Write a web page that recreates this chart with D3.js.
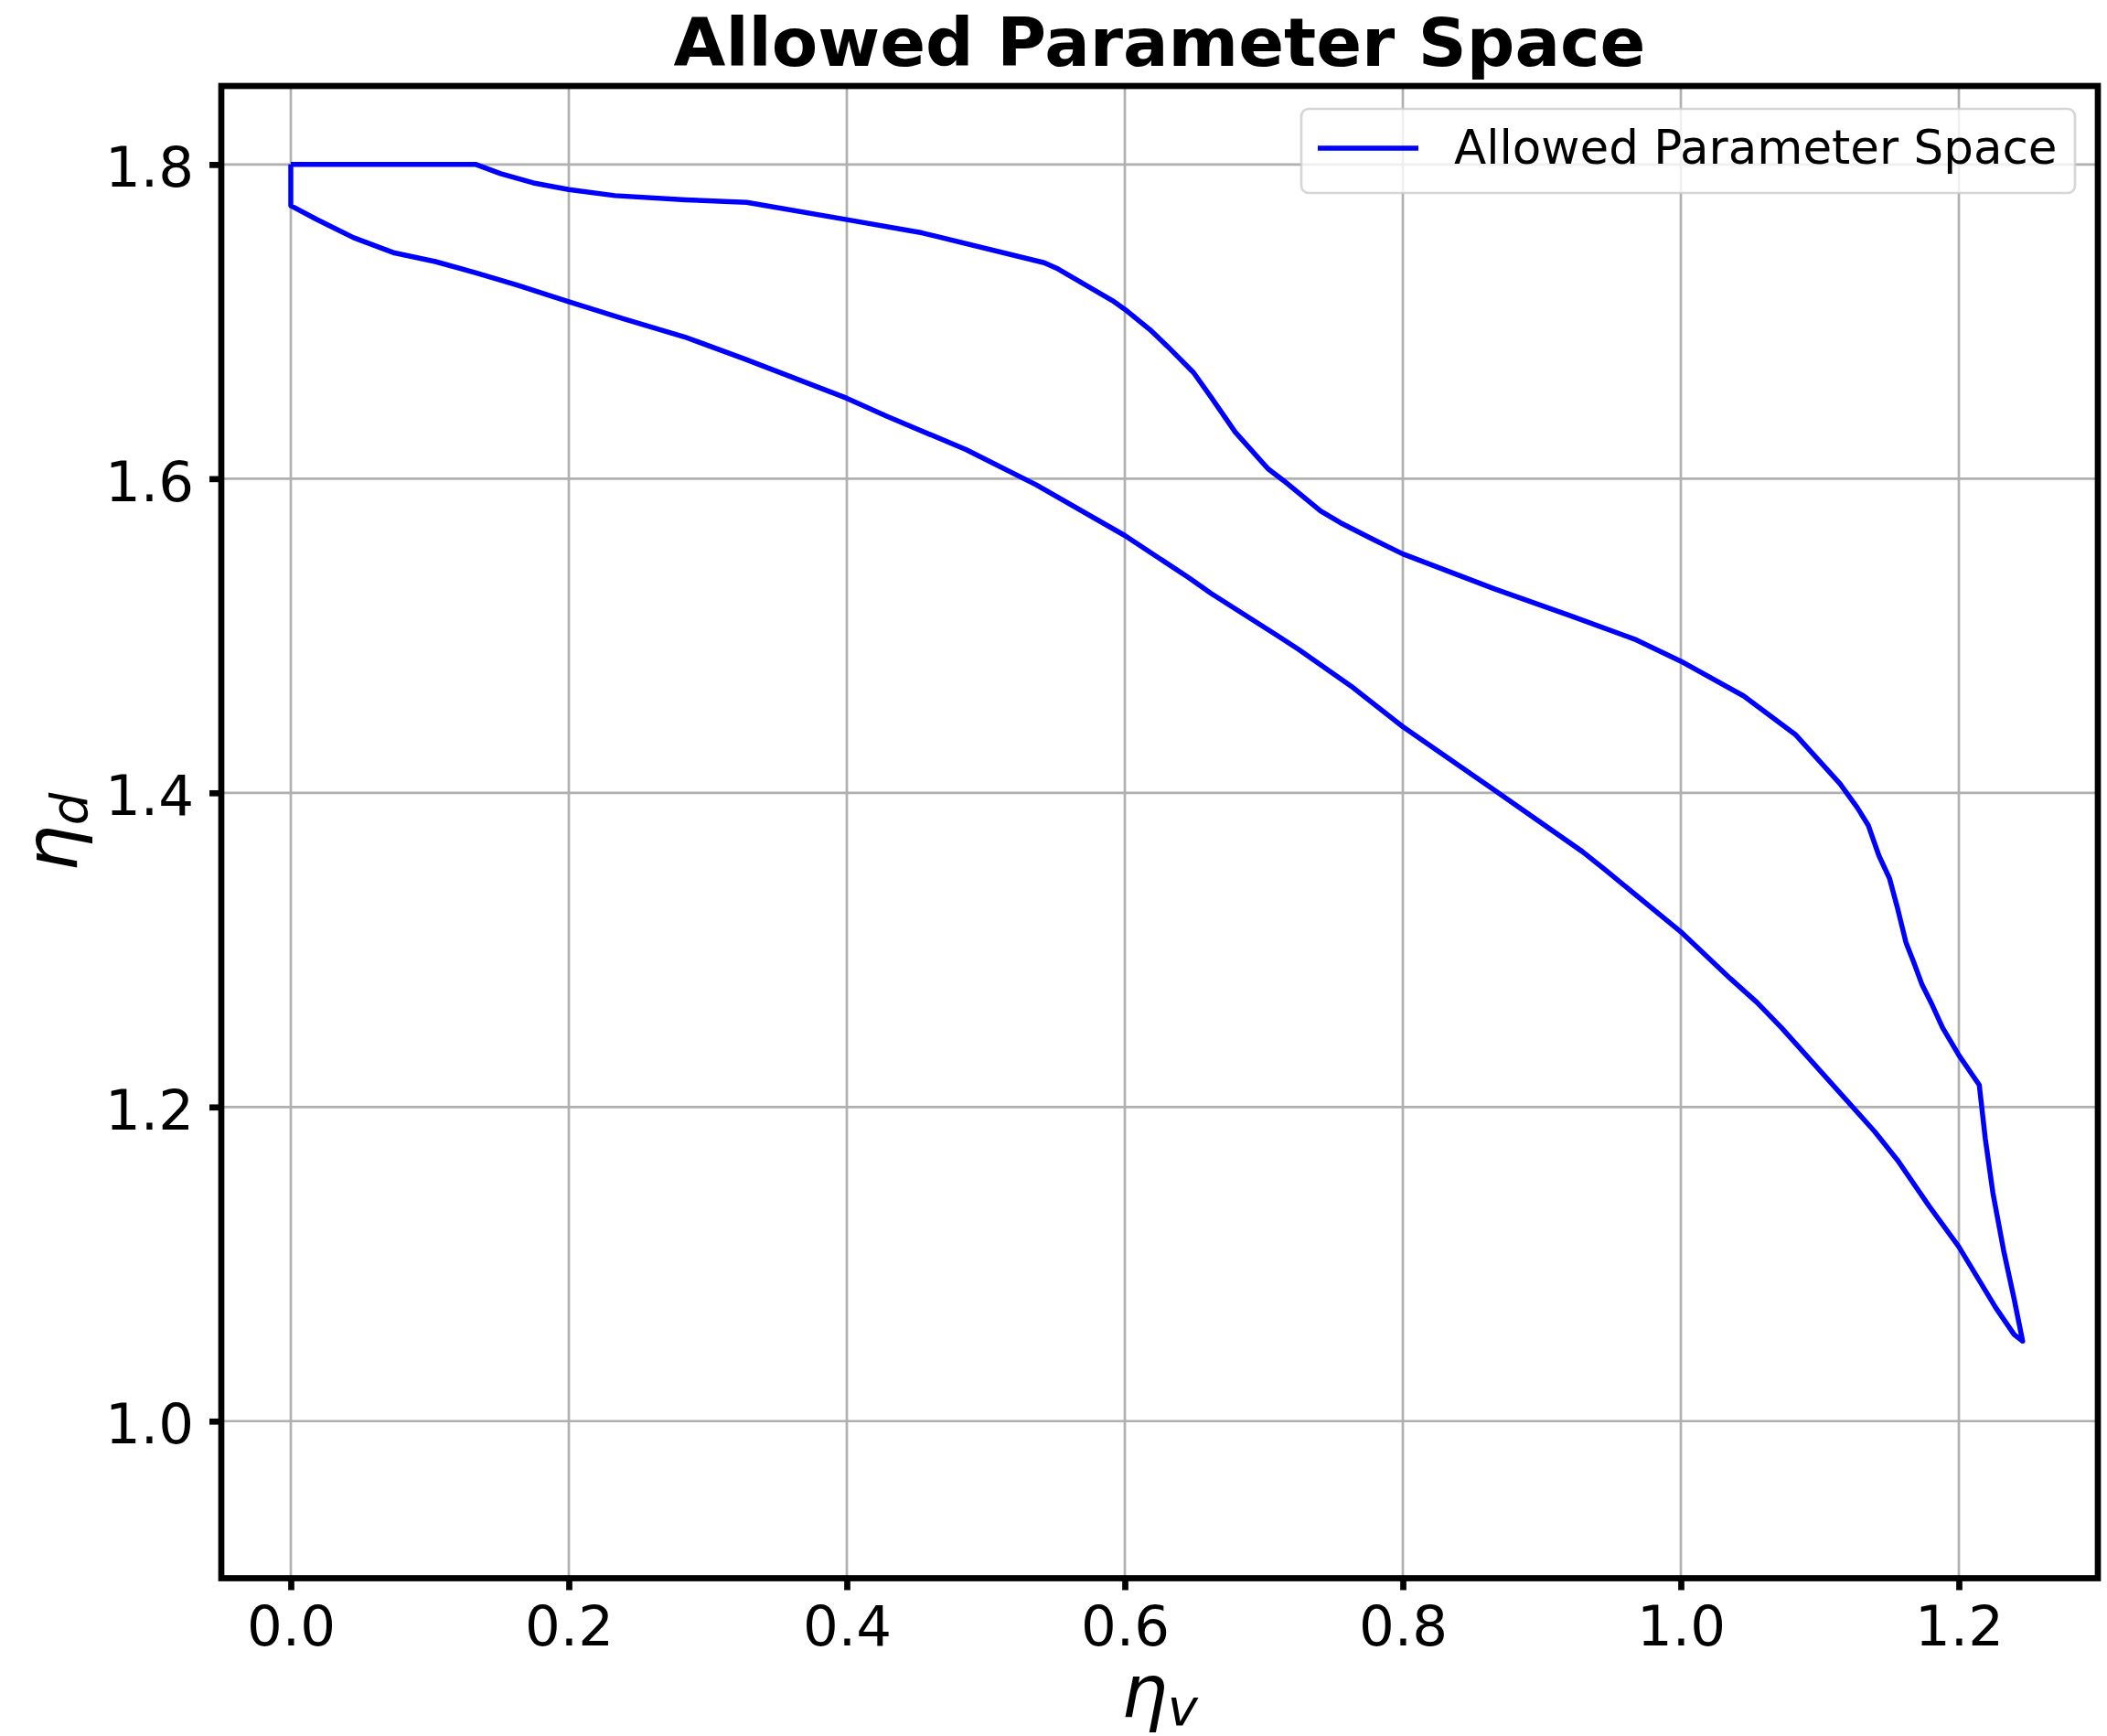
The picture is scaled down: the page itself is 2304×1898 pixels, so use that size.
<!DOCTYPE html>
<html>
<head>
<meta charset="utf-8">
<script src="https://cdn.jsdelivr.net/npm/d3@7"></script>
<style>
  html, body { margin: 0; padding: 0; background: #ffffff; }
  svg { display: block; font-family: "DejaVu Sans", sans-serif; }
</style>
</head>
<body>
<svg id="chart" width="2304" height="1898"></svg>
<script>
// Boundary of the allowed region in the (eta_v, eta_d) plane,
// traced along the upper edge out to the tip and back along the lower edge.
const etaV = [
  0.0, 0.1333, 0.151, 0.1744, 0.2, 0.2332, 0.284, 0.328, 0.4, 0.454,
  0.542, 0.552, 0.591, 0.6, 0.618, 0.6305, 0.6494, 0.662, 0.6794, 0.703,
  0.714, 0.7408, 0.755, 0.778, 0.8, 0.866, 0.9195, 0.9667, 1.0, 1.0453,
  1.0823, 1.1145, 1.127, 1.1348, 1.1425, 1.1501, 1.156, 1.1619, 1.1676, 1.1736,
  1.1807, 1.1883, 1.2, 1.2147, 1.219, 1.2245, 1.2322, 1.2398, 1.2459,
  1.2398, 1.2267, 1.2, 1.1786, 1.156, 1.1395, 1.0724, 1.0547, 1.0358, 1.0,
  0.9449, 0.929, 0.866, 0.8, 0.7628, 0.725, 0.7088, 0.662, 0.6459, 0.6,
  0.536, 0.4857, 0.429, 0.4, 0.3272, 0.2831, 0.239, 0.2, 0.1627, 0.1333,
  0.104, 0.0746, 0.0452, 0.0188, 0.0, 0.0
];
const etaD = [
  1.8, 1.8, 1.7942, 1.7883, 1.7841, 1.7802, 1.7775, 1.7759, 1.7649, 1.7565,
  1.7375, 1.7335, 1.7134, 1.7078, 1.6949, 1.6844, 1.6676, 1.652, 1.6297, 1.6063,
  1.5989, 1.5795, 1.572, 1.5616, 1.5521, 1.5298, 1.5131, 1.4978, 1.4838, 1.4616,
  1.4372, 1.4058, 1.3905, 1.3794, 1.36, 1.3456, 1.3262, 1.3049, 1.292, 1.2777,
  1.2652, 1.2505, 1.233, 1.214, 1.18, 1.1453, 1.1087, 1.0777, 1.0509,
  1.0551, 1.072, 1.111, 1.1369, 1.166, 1.1843, 1.2505, 1.2666, 1.2816, 1.3115,
  1.3515, 1.3627, 1.4017, 1.4421, 1.4679, 1.4913, 1.5006, 1.527, 1.537, 1.5638,
  1.5962, 1.6185, 1.6397, 1.6512, 1.676, 1.6903, 1.7019, 1.7126, 1.7233, 1.731,
  1.7382, 1.7437, 1.7534, 1.765, 1.7738, 1.8
];

const xTicks = [0.0, 0.2, 0.4, 0.6, 0.8, 1.0, 1.2];
const yTicks = [1.0, 1.2, 1.4, 1.6, 1.8];
const xDomain = [-0.05, 1.3];
const yDomain = [0.9, 1.85];

const titleText = "Allowed Parameter Space";
const seriesName = "Allowed Parameter Space";

const svg = d3.select("#chart");
const W = 2304, H = 1898;
const box = { left: 242, right: 2294, top: 94, bottom: 1725.5 };

const x = d3.scaleLinear().domain(xDomain).range([box.left, box.right]);
const y = d3.scaleLinear().domain(yDomain).range([box.bottom, box.top]);

svg.append("rect").attr("width", W).attr("height", H).attr("fill", "#ffffff");

svg.append("defs").append("clipPath").attr("id", "plotArea")
  .append("rect")
  .attr("x", box.left).attr("y", box.top)
  .attr("width", box.right - box.left).attr("height", box.bottom - box.top);

// grid
const grid = svg.append("g").attr("class", "grid");
grid.selectAll("line.gx").data(xTicks).join("line")
  .attr("x1", d => x(d)).attr("x2", d => x(d))
  .attr("y1", box.top).attr("y2", box.bottom)
  .attr("stroke", "#b0b0b0").attr("stroke-width", 2.7);
grid.selectAll("line.gy").data(yTicks).join("line")
  .attr("y1", d => y(d)).attr("y2", d => y(d))
  .attr("x1", box.left).attr("x2", box.right)
  .attr("stroke", "#b0b0b0").attr("stroke-width", 2.7);

// boundary curve
const pts = etaV.map((v, i) => [v, etaD[i]]);
const line = d3.line().x(d => x(d[0])).y(d => y(d[1]));
svg.append("path")
  .datum(pts)
  .attr("clip-path", "url(#plotArea)")
  .attr("d", line)
  .attr("fill", "none")
  .attr("stroke", "#0000ff")
  .attr("stroke-width", 5.5)
  .attr("stroke-linejoin", "round")
  .attr("stroke-linecap", "butt");

// axes
const fmt = d3.format(".1f");
const xAxis = svg.append("g")
  .attr("transform", `translate(0,${box.bottom})`)
  .call(d3.axisBottom(x).tickValues(xTicks).tickFormat(fmt).tickSize(13).tickPadding(17));
const yAxis = svg.append("g")
  .attr("transform", `translate(${box.left},0)`)
  .call(d3.axisLeft(y).tickValues(yTicks).tickFormat(fmt).tickSize(13).tickPadding(17));

[xAxis, yAxis].forEach(g => {
  g.select(".domain").remove();
  g.selectAll(".tick line").attr("stroke", "#000").attr("stroke-width", 6.7);
  g.selectAll(".tick text")
    .attr("fill", "#000")
    .style("font-family", "'DejaVu Sans', sans-serif")
    .style("font-size", "61px");
});
yAxis.selectAll(".tick text").attr("dy", "0.39em");

// spines
svg.append("rect")
  .attr("x", box.left).attr("y", box.top)
  .attr("width", box.right - box.left).attr("height", box.bottom - box.top)
  .attr("fill", "none").attr("stroke", "#000").attr("stroke-width", 6.7);

// title
svg.append("text")
  .attr("x", (box.left + box.right) / 2).attr("y", 72)
  .attr("text-anchor", "middle")
  .style("font-size", "73.5px").style("font-weight", "bold")
  .text(titleText);

// axis labels
const xl = svg.append("text")
  .attr("x", (box.left + box.right) / 2).attr("y", 1877)
  .attr("text-anchor", "middle")
  .style("font-size", "80px");
xl.append("tspan").style("font-style", "italic").text("η");
xl.append("tspan").style("font-style", "italic").style("font-size", "56px").attr("dy", 9).text("v");

const yl = svg.append("text")
  .attr("transform", `translate(84,${(box.top + box.bottom) / 2}) rotate(-90)`)
  .attr("text-anchor", "middle")
  .style("font-size", "80px");
yl.append("tspan").style("font-style", "italic").text("η");
yl.append("tspan").style("font-style", "italic").style("font-size", "56px").attr("dy", 11).text("d");

// legend
const lg = svg.append("g");
lg.append("rect")
  .attr("x", 1423).attr("y", 119).attr("width", 846).attr("height", 92)
  .attr("rx", 8).attr("ry", 8)
  .attr("fill", "#ffffff").attr("fill-opacity", 0.8)
  .attr("stroke", "#cccccc").attr("stroke-opacity", 0.8).attr("stroke-width", 2.7);
lg.append("line")
  .attr("x1", 1441).attr("x2", 1551).attr("y1", 162).attr("y2", 162)
  .attr("stroke", "#0000ff").attr("stroke-width", 5.5);
lg.append("text")
  .attr("x", 1590).attr("y", 179)
  .style("font-size", "51.5px")
  .text(seriesName);
</script>
</body>
</html>
